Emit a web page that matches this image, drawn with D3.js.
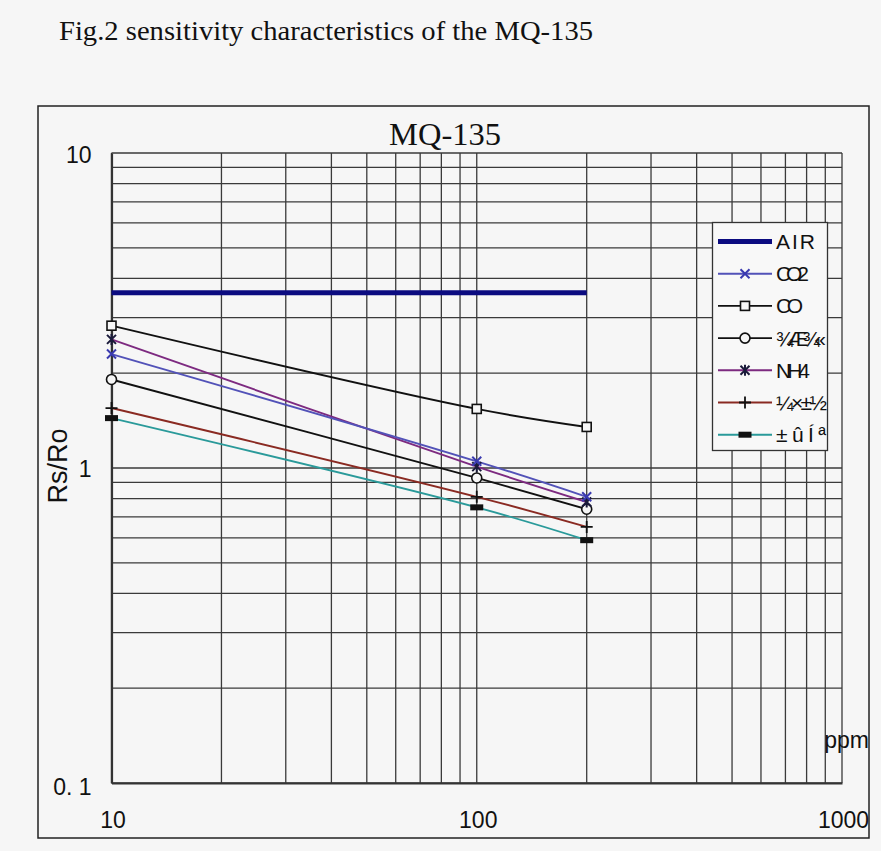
<!DOCTYPE html>
<html>
<head>
<meta charset="utf-8">
<script src="https://cdn.jsdelivr.net/npm/d3@7"></script>
<style>
  html, body { margin: 0; padding: 0; background: #f6f6f6; }
  svg { display: block; }
</style>
</head>
<body>
<svg id="chart" width="881" height="851"></svg>
<script>
// Gas concentrations (ppm) at which the sensor curves were measured
const ppm = [10, 100, 200];

// Rs/Ro ratio for each gas
const airRatio     = [3.6, 3.6, 3.6];
const co2Ratio     = [2.30, 1.05, 0.81];
const coRatio      = [2.83, 1.54, 1.35];
const alcoholRatio = [1.91, 0.93, 0.74];
const nh4Ratio     = [2.56, 1.01, 0.78];
const tolueneRatio = [1.55, 0.81, 0.65];
const acetoneRatio = [1.44, 0.75, 0.59];

// Legend names, in legend order
const seriesNames = ["AIR", "CO2", "CO", "\u00BE\u00C6\u00BE\u00AB", "NH4", "\u00BC\u00D7\u00B1\u00BD", "\u00B1\u00FB\u00CD\u00AA"];

// Axis tick values and labels
const xTickValues = [10, 100, 1000];
const xTickLabels = ["10", "100", "1000"];
const yTickValues = [10, 1, 0.1];
const yTickLabels = ["10", "1", "0. 1"];

const figTitle = "Fig.2 sensitivity characteristics of the MQ-135";
const chartTitle = "MQ-135";
const yAxisTitle = "Rs/Ro";
const xAxisTitle = "ppm";

const seriesValues = [airRatio, co2Ratio, coRatio, alcoholRatio, nh4Ratio, tolueneRatio, acetoneRatio];
const seriesStyle = [
  { color: "#0b0b80", width: 5,   marker: "none" },
  { color: "#5252b8", width: 1.9, marker: "x",       markerColor: "#3a3ab0" },
  { color: "#111111", width: 1.9, marker: "square",  markerColor: "#111111" },
  { color: "#111111", width: 1.9, marker: "circle",  markerColor: "#111111" },
  { color: "#7d2a80", width: 1.9, marker: "star",    markerColor: "#1a1a3a" },
  { color: "#8a2a22", width: 1.9, marker: "plus",    markerColor: "#111111" },
  { color: "#2a9a9a", width: 1.9, marker: "bar",     markerColor: "#111111" }
];
// compressed label widths in the legend box
const legendTextWidth = [39, 33, 27, 50, 34, 51, 50];

const svg = d3.select("#chart");
const W = 881, H = 851;
const bg = "#f6f6f6";
const plot = { left: 111.5, right: 842, top: 153, bottom: 783 };

svg.append("rect").attr("width", W).attr("height", H).attr("fill", bg);

// Figure caption
svg.append("text")
  .attr("x", 59).attr("y", 40)
  .attr("font-family", "'Liberation Serif', 'Times New Roman', serif")
  .attr("font-size", 28)
  .attr("textLength", 534).attr("lengthAdjust", "spacingAndGlyphs")
  .attr("fill", "#111")
  .text(figTitle);

// Outer chart frame
svg.append("rect")
  .attr("x", 38).attr("y", 106).attr("width", 831).attr("height", 732)
  .attr("fill", bg).attr("stroke", "#222").attr("stroke-width", 1.5);

// Chart title
svg.append("text")
  .attr("x", 445).attr("y", 145)
  .attr("text-anchor", "middle")
  .attr("font-family", "'Liberation Serif', 'Times New Roman', serif")
  .attr("font-size", 31)
  .attr("textLength", 112).attr("lengthAdjust", "spacingAndGlyphs")
  .attr("fill", "#111")
  .text(chartTitle);

const x = d3.scaleLog().domain([10, 1000]).range([plot.left, plot.right]);
const y = d3.scaleLog().domain([0.1, 10]).range([plot.bottom, plot.top]);

// Gridlines at every minor log step
const gridColor = "#3a3a3a";
const xGrid = x.ticks(); // 10,20,...,1000
const yGrid = y.ticks(); // 0.1,0.2,...,10
const grid = svg.append("g");
grid.selectAll("line.v").data(xGrid).join("line")
  .attr("class", "v")
  .attr("x1", d => x(d)).attr("x2", d => x(d))
  .attr("y1", plot.top).attr("y2", plot.bottom)
  .attr("stroke", gridColor).attr("stroke-width", 1.3);
grid.selectAll("line.h").data(yGrid).join("line")
  .attr("class", "h")
  .attr("x1", plot.left).attr("x2", plot.right)
  .attr("y1", d => y(d)).attr("y2", d => y(d))
  .attr("stroke", gridColor).attr("stroke-width", 1.3);

// Main axes
const xAxis = d3.axisBottom(x).tickValues(xTickValues).tickSize(0)
  .tickFormat((d, i) => xTickLabels[i]);
const gx = svg.append("g").attr("transform", `translate(0,${plot.bottom})`).call(xAxis);
gx.select(".domain").attr("stroke", "#333").attr("stroke-width", 2.2);
gx.selectAll("text")
  .attr("font-family", "'Liberation Sans', Arial, sans-serif")
  .attr("font-size", 23).attr("fill", "#111")
  .attr("dy", 0).attr("y", 45);
gx.selectAll(".tick text").attr("transform", "translate(1,0)");

const yAxis = d3.axisLeft(y).tickValues(yTickValues).tickSize(0)
  .tickFormat((d, i) => yTickLabels[i]);
const gy = svg.append("g").attr("transform", `translate(${plot.left},0)`).call(yAxis);
gy.select(".domain").attr("stroke", "#333").attr("stroke-width", 2.2);
gy.selectAll("text")
  .attr("font-family", "'Liberation Sans', Arial, sans-serif")
  .attr("font-size", 23).attr("fill", "#111")
  .attr("x", -20).attr("dy", "0.35em");
gy.selectAll(".tick").filter(d => d === 0.1).select("text").attr("dy", "0.5em");
gy.selectAll(".tick").filter(d => d === 10).select("text").attr("dy", "0.4em");

// Axis titles
svg.append("text")
  .attr("transform", `translate(67,466) rotate(-90)`)
  .attr("text-anchor", "middle")
  .attr("font-family", "'Liberation Sans', Arial, sans-serif")
  .attr("font-size", 27).attr("fill", "#111")
  .text(yAxisTitle);
svg.append("text")
  .attr("x", 869).attr("y", 748)
  .attr("text-anchor", "end")
  .attr("font-family", "'Liberation Sans', Arial, sans-serif")
  .attr("font-size", 23).attr("fill", "#111")
  .text(xAxisTitle);

// Marker drawing
function drawMarker(g, type, cx, cy, color) {
  const s = 4.5;
  if (type === "x") {
    g.append("path").attr("d", `M${cx-s},${cy-s}L${cx+s},${cy+s}M${cx-s},${cy+s}L${cx+s},${cy-s}`)
      .attr("stroke", color).attr("stroke-width", 2).attr("fill", "none");
  } else if (type === "square") {
    g.append("rect").attr("x", cx - 4.5).attr("y", cy - 4.5).attr("width", 9).attr("height", 9)
      .attr("fill", bg).attr("stroke", color).attr("stroke-width", 1.6);
  } else if (type === "circle") {
    g.append("circle").attr("cx", cx).attr("cy", cy).attr("r", 5)
      .attr("fill", bg).attr("stroke", color).attr("stroke-width", 1.6);
  } else if (type === "star") {
    g.append("path").attr("d", `M${cx-s},${cy-s}L${cx+s},${cy+s}M${cx-s},${cy+s}L${cx+s},${cy-s}M${cx},${cy-s-1}L${cx},${cy+s+1}`)
      .attr("stroke", color).attr("stroke-width", 2).attr("fill", "none");
  } else if (type === "plus") {
    g.append("path").attr("d", `M${cx-6},${cy}L${cx+6},${cy}M${cx},${cy-6}L${cx},${cy+6}`)
      .attr("stroke", color).attr("stroke-width", 1.8).attr("fill", "none");
  } else if (type === "bar") {
    g.append("rect").attr("x", cx - 6.5).attr("y", cy - 3).attr("width", 13).attr("height", 6)
      .attr("fill", color);
  }
}

// Series curves
const line = d3.line()
  .x(d => x(d[0])).y(d => y(d[1]))
  .curve(d3.curveCatmullRom.alpha(0.5));

const seriesG = svg.append("g");
// the blue CO2 curve is drawn last so it sits on top
const drawOrder = [0, 2, 3, 5, 6, 4, 1];
drawOrder.forEach(si => {
  const st = seriesStyle[si];
  const pts = ppm.map((p, i) => [p, seriesValues[si][i]]);
  seriesG.append("path")
    .attr("d", si === 0 ? d3.line().x(d => x(d[0])).y(d => y(d[1]))(pts) : line(pts))
    .attr("fill", "none").attr("stroke", st.color).attr("stroke-width", st.width);
});
drawOrder.forEach(si => {
  const st = seriesStyle[si];
  if (st.marker === "none") return;
  ppm.forEach((p, i) => drawMarker(seriesG, st.marker, x(p), y(seriesValues[si][i]), st.markerColor));
});

// Legend
const lg = svg.append("g");
lg.append("rect").attr("x", 712.5).attr("y", 222.5).attr("width", 115).attr("height", 228)
  .attr("fill", "#f8f8f8").attr("stroke", "#333").attr("stroke-width", 1.3);
const legendY0 = 241.5, legendStep = 32.2;
seriesNames.forEach((name, i) => {
  const st = seriesStyle[i];
  const ly = legendY0 + i * legendStep;
  lg.append("line").attr("x1", 718).attr("x2", 772).attr("y1", ly).attr("y2", ly)
    .attr("stroke", st.color).attr("stroke-width", st.width);
  if (st.marker !== "none") drawMarker(lg, st.marker, 745, ly, st.markerColor);
  lg.append("text")
    .attr("x", 776).attr("y", ly).attr("dy", "0.36em")
    .attr("font-family", "'Liberation Sans', Arial, sans-serif")
    .attr("font-size", 21)
    .attr("textLength", legendTextWidth[i]).attr("lengthAdjust", "spacing")
    .attr("fill", "#111")
    .text(name);
});
</script>
</body>
</html>
